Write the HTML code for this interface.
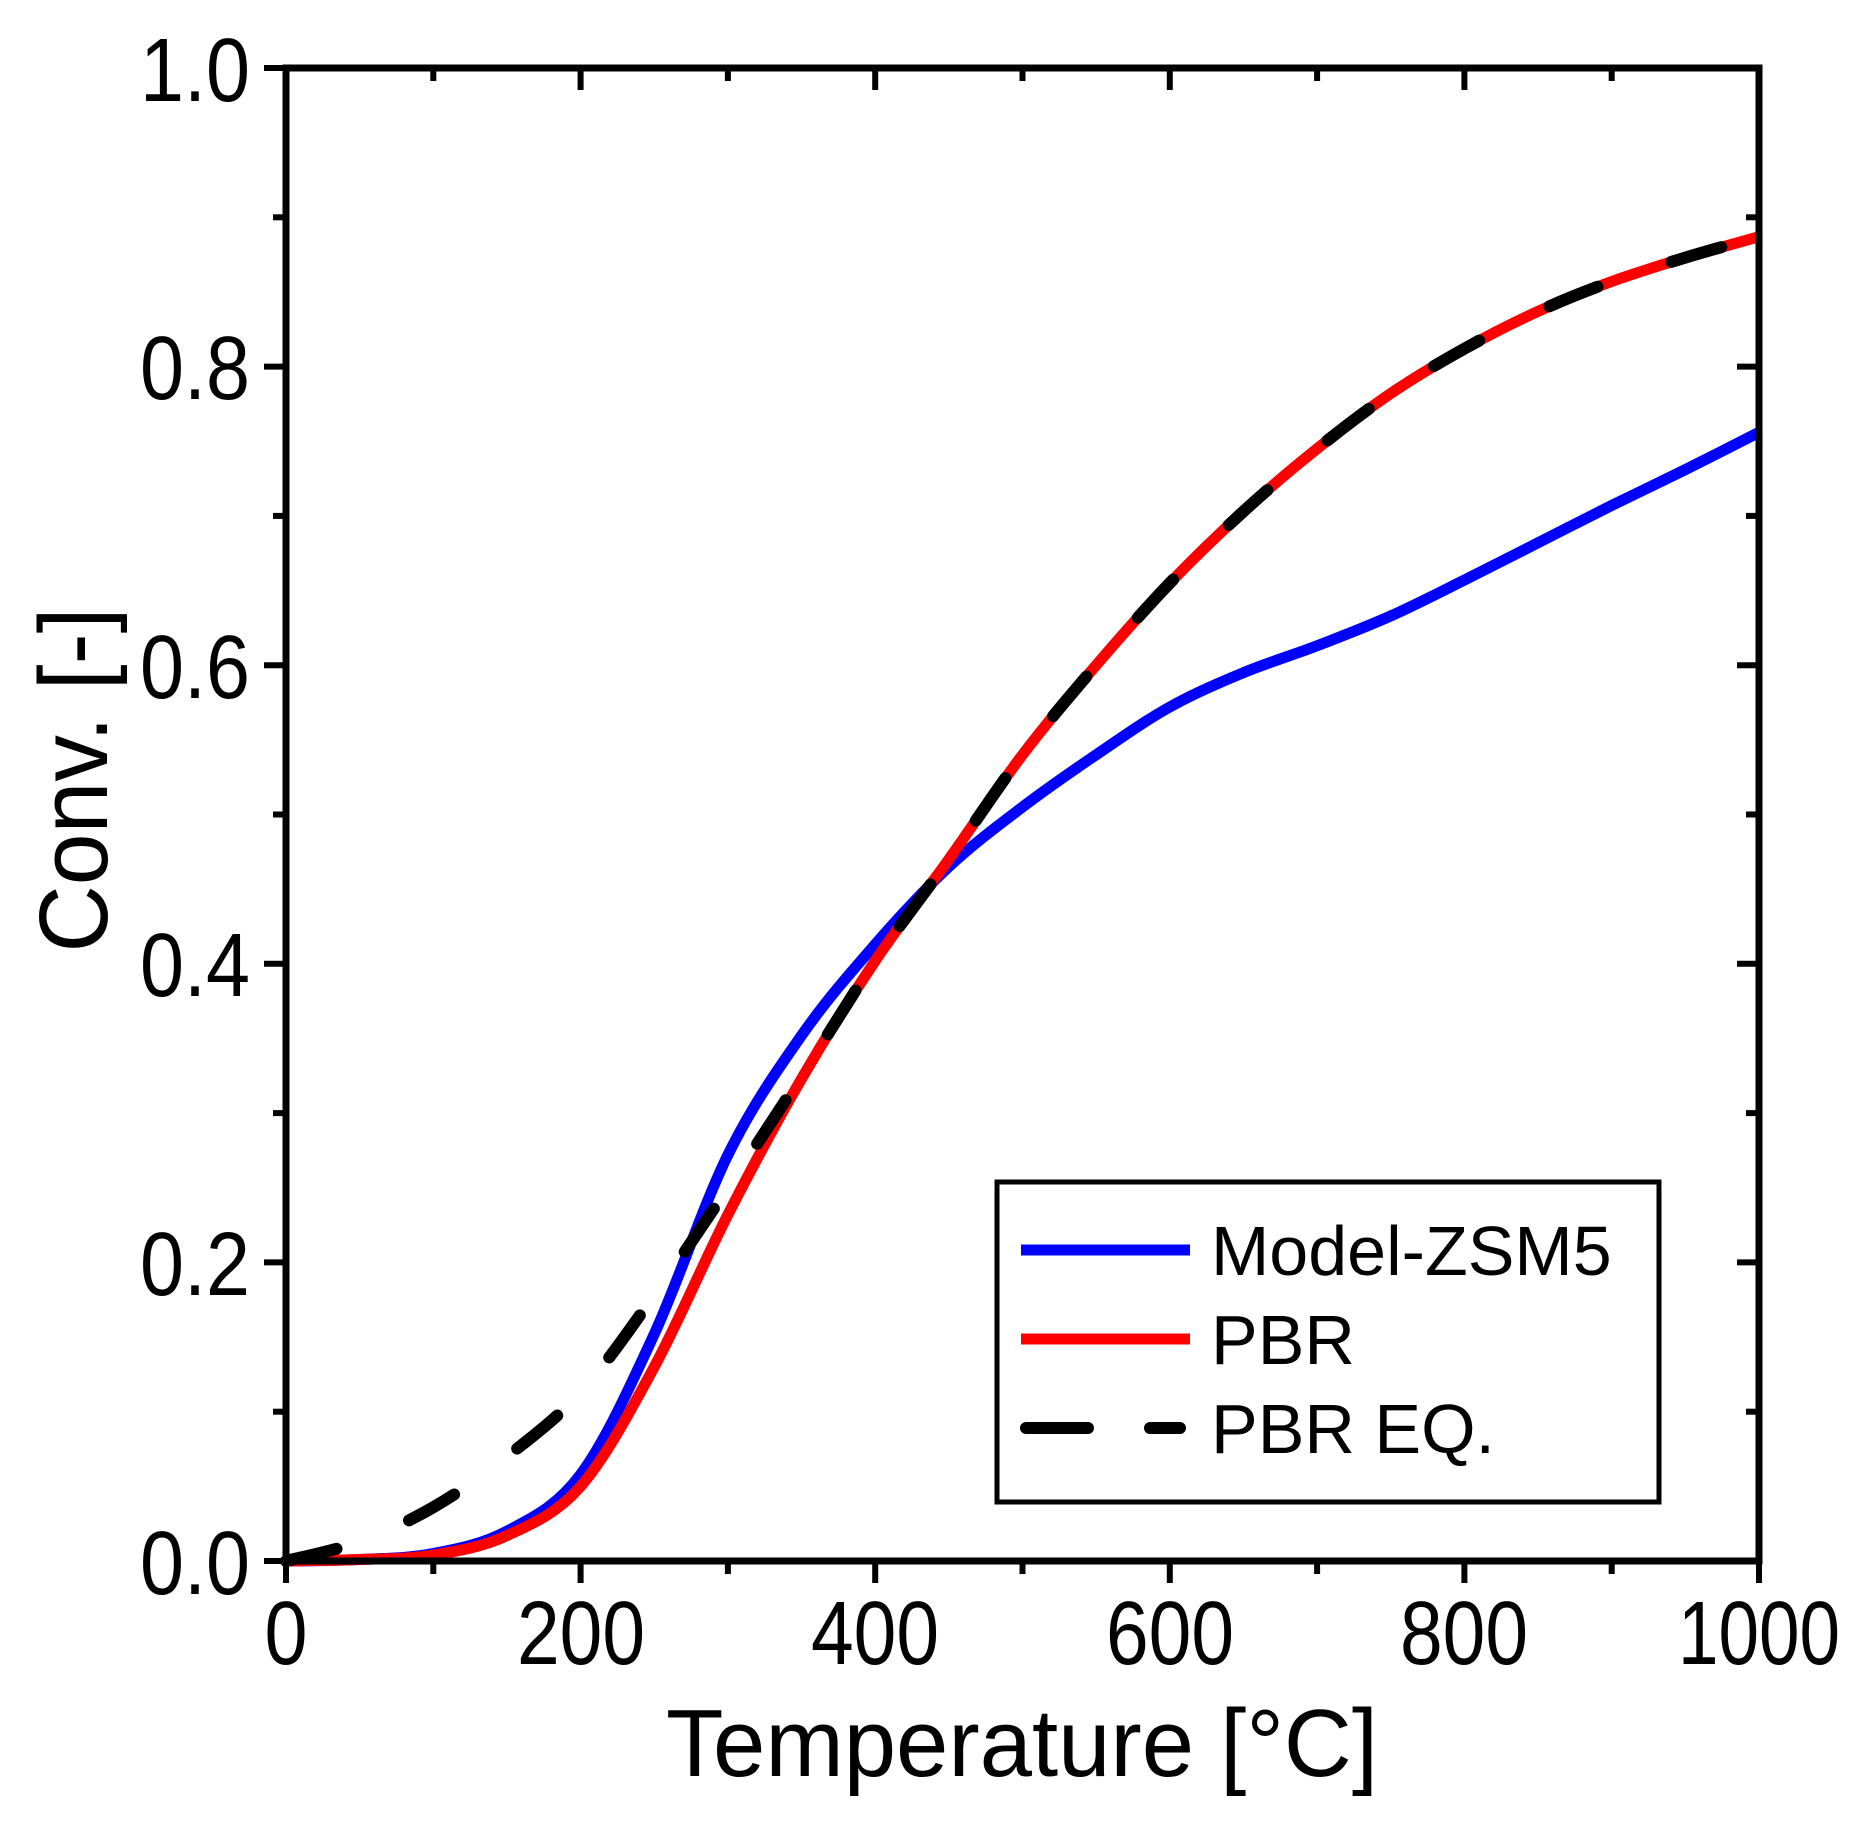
<!DOCTYPE html>
<html><head><meta charset="utf-8"><style>html,body{margin:0;padding:0;background:#fff}svg{display:block}</style></head>
<body>
<svg id="s" width="1866" height="1834" viewBox="0 0 1866 1834" xmlns="http://www.w3.org/2000/svg" font-family="Liberation Sans, Arial, sans-serif">
<rect width="1866" height="1834" fill="#fff"/>
<g id="ticks" stroke="#000" stroke-width="6"></g>
<g id="curves" fill="none" stroke-linejoin="round"></g>
<rect x="286" y="68" width="1473" height="1493" fill="none" stroke="#000" stroke-width="7"/>
<g font-size="90" fill="#000" text-anchor="middle">
<text x="286" y="1664" textLength="43" lengthAdjust="spacingAndGlyphs">0</text>
<text x="581" y="1664" textLength="128" lengthAdjust="spacingAndGlyphs">200</text>
<text x="875" y="1664" textLength="128" lengthAdjust="spacingAndGlyphs">400</text>
<text x="1170" y="1664" textLength="128" lengthAdjust="spacingAndGlyphs">600</text>
<text x="1464" y="1664" textLength="128" lengthAdjust="spacingAndGlyphs">800</text>
<text x="1759" y="1664" textLength="162" lengthAdjust="spacingAndGlyphs">1000</text>
</g>
<g font-size="90" fill="#000" text-anchor="end">
<text x="250" y="1594" textLength="110" lengthAdjust="spacingAndGlyphs">0.0</text>
<text x="250" y="1295" textLength="110" lengthAdjust="spacingAndGlyphs">0.2</text>
<text x="250" y="996" textLength="110" lengthAdjust="spacingAndGlyphs">0.4</text>
<text x="250" y="698" textLength="110" lengthAdjust="spacingAndGlyphs">0.6</text>
<text x="250" y="399" textLength="110" lengthAdjust="spacingAndGlyphs">0.8</text>
<text x="250" y="101" textLength="110" lengthAdjust="spacingAndGlyphs">1.0</text>
</g>
<text x="1022" y="1776" font-size="96" text-anchor="middle" textLength="712" lengthAdjust="spacingAndGlyphs">Temperature [°C]</text>
<text transform="translate(107,780) rotate(-90)" font-size="97" text-anchor="middle" textLength="345" lengthAdjust="spacingAndGlyphs">Conv. [-]</text>
<rect x="997" y="1182" width="662" height="320" fill="#fff" stroke="#000" stroke-width="5"/>
<line x1="1021" y1="1250" x2="1190" y2="1250" stroke="#0000ff" stroke-width="11"/>
<line x1="1021" y1="1339" x2="1190" y2="1339" stroke="#ff0000" stroke-width="11"/>
<line x1="1026" y1="1428" x2="1188" y2="1428" stroke="#000" stroke-width="12" stroke-dasharray="62 62 30" stroke-linecap="round"/>
<g font-size="70" fill="#000">
<text x="1211" y="1275">Model-ZSM5</text>
<text x="1211" y="1364">PBR</text>
<text x="1211" y="1453">PBR EQ.</text>
</g>
</svg>
<script>
const X=t=>286+t*1.473, Y=c=>1561-c*1493;
const ns="http://www.w3.org/2000/svg";
const tk=document.getElementById('ticks');
function ln(x1,y1,x2,y2){const l=document.createElementNS(ns,'line');l.setAttribute('x1',x1);l.setAttribute('y1',y1);l.setAttribute('x2',x2);l.setAttribute('y2',y2);tk.appendChild(l);}
for(let t=0;t<=1000;t+=100){const maj=t%200==0,L=maj?22:13,x=X(t);ln(x,1561,x,1561+L);ln(x,68,x,68+L);}
for(let i=0;i<=10;i++){const c=i/10,maj=i%2==0,L=maj?22:13,y=Y(c);ln(286,y,286-L,y);ln(1759,y,1759-L,y);}
function path(pts){const p=pts.map(([t,c])=>[X(t),Y(c)]);let d='M'+p[0][0]+','+p[0][1];
for(let i=0;i<p.length-1;i++){const p0=p[i-1]||p[i],p1=p[i],p2=p[i+1],p3=p[i+2]||p2;
d+=' C'+(p1[0]+(p2[0]-p0[0])/6)+','+(p1[1]+(p2[1]-p0[1])/6)+' '+(p2[0]-(p3[0]-p1[0])/6)+','+(p2[1]-(p3[1]-p1[1])/6)+' '+p2[0]+','+p2[1];}return d;}
const red=[[0,0],[50,0.001],[100,0.004],[150,0.017],[200,0.05],[250,0.13],[300,0.232],[350,0.323],[400,0.402],[450,0.47],[500,0.54],[550,0.6],[600,0.655],[650,0.703],[700,0.745],[750,0.782],[800,0.812],[850,0.837],[900,0.857],[950,0.873],[1000,0.887]];
const blue=[[0,0],[50,0.001],[100,0.005],[150,0.02],[200,0.058],[250,0.152],[300,0.272],[350,0.352],[400,0.413],[450,0.465],[500,0.505],[550,0.54],[600,0.572],[650,0.595],[700,0.613],[750,0.633],[800,0.657],[850,0.682],[900,0.707],[950,0.731],[1000,0.756]];
const blk=[[0,0],[50,0.013],[100,0.036],[150,0.07],[200,0.113],[250,0.178],[300,0.25],[350,0.325]].concat(red.slice(8));
const g=document.getElementById('curves');
function add(d,col,dash){const e=document.createElementNS(ns,'path');e.setAttribute('d',d);e.setAttribute('stroke',col);e.setAttribute('stroke-width','11');if(dash){e.setAttribute('stroke-width','12');e.setAttribute('stroke-dasharray','52 78');e.setAttribute('stroke-linecap','round');}g.appendChild(e);}
add(path(blue),'#0000ff');add(path(red),'#ff0000');add(path(blk),'#000',true);
</script>
</body></html>
